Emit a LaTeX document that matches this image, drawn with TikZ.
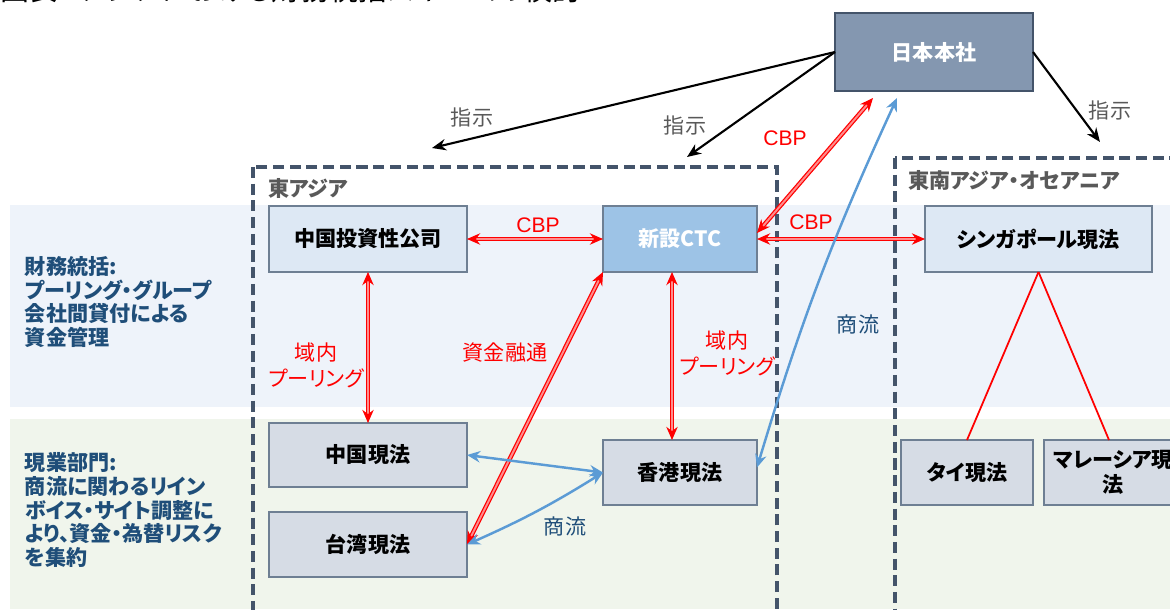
\documentclass[tikz,border=0pt]{standalone}
\usepackage{fontspec}
\setmainfont[RawFeature=+palt]{Noto Sans CJK JP}
\newfontfamily\latf{Liberation Sans}
\usetikzlibrary{arrows.meta,calc}
\definecolor{bandblue}{HTML}{EEF3FA}
\definecolor{bandgreen}{HTML}{F0F5EC}
\definecolor{boxlight}{HTML}{DDE8F4}
\definecolor{boxctc}{HTML}{9DC3E6}
\definecolor{boxgray}{HTML}{D6DCE5}
\definecolor{boxhq}{HTML}{8497B0}
\definecolor{slate}{HTML}{44546A}
\definecolor{edgegray}{HTML}{6E7F93}
\definecolor{navy}{HTML}{1F4E79}
\definecolor{flowblue}{HTML}{5B9BD5}
\definecolor{labelgray}{HTML}{595959}
\newcommand\bxfont{\bfseries\fontsize{12}{14}\selectfont}
\newcommand\lbfont{\fontsize{12}{14}\selectfont}
\begin{document}
\begin{tikzpicture}[x=0.02cm,y=-0.02cm,
  every node/.style={inner sep=0pt,outer sep=0pt},
  px/.style n args={2}{minimum width=#1*0.02cm,minimum height=#2*0.02cm},
  lightbox/.style={draw=edgegray,fill=boxlight,line width=0.8pt,font=\bxfont},
  ctcbox/.style={draw=edgegray,fill=boxctc,line width=0.8pt,text=white,font=\bxfont},
  graybox/.style={draw=edgegray,fill=boxgray,line width=0.8pt,font=\bxfont},
  hqbox/.style={draw=slate,fill=boxhq,line width=0.8pt,text=white,font=\bxfont},
  region/.style={draw=slate,line width=1.8pt,dash pattern=on 6.3pt off 3.2pt},
  regionlabel/.style={anchor=west,text=labelgray,font=\bxfont},
  sidelabel/.style={anchor=west,align=left,text=navy,font=\bfseries\fontsize{12}{13.4}\selectfont},
  redlabel/.style={text=red,align=center,font=\fontsize{12}{14.8}\selectfont},
  cbplabel/.style={text=red,font=\latf\fontsize{12}{14}\selectfont},
  flowlabel/.style={text=navy,font=\lbfont},
  ordlabel/.style={text=labelgray,font=\lbfont},
  blackarr/.style={draw=black,line width=1.2pt,-{Stealth[length=8pt,width=6.5pt]}},
  redarr/.style={draw=red,line width=0.7pt,double=red!45,double distance=1.1pt,
    {Stealth[length=7.5pt,width=6.5pt]}-{Stealth[length=7.5pt,width=6.5pt]}},
  redline/.style={draw=red,line width=1pt},
  bluearr/.style={draw=flowblue,line width=1.4pt,
    {Stealth[length=7.5pt,width=6.5pt]}-{Stealth[length=7.5pt,width=6.5pt]}}
]
\useasboundingbox (0,0) rectangle (1170,609);
\begin{scope}
\clip (0,0) rectangle (1170,609);
\fill[bandblue] (10,205) rectangle (1170,407);
\fill[bandgreen] (10,419) rectangle (1170,609);
\node[anchor=base west,font=\fontsize{16.5}{18}\selectfont] (title) at (0,0) {図表4 アジアにおける財務統括スキームの検討};
\draw[region] (253,167) rectangle (777,660);
\draw[region] (895,158) rectangle (1220,660);
\end{scope}

\node[regionlabel] (ea) at (268,188) {東アジア};
\node[regionlabel] (sea) at (908,180) {東南アジア・オセアニア};

\node[sidelabel] (fin) at (25,302) {財務統括:\\プーリング・グループ\\会社間貸付による\\資金管理};
\node[sidelabel] (ops) at (25,510) {現業部門:\\商流に関わるリイン\\ボイス・サイト調整に\\より、資金・為替リスク\\を集約};

\node[hqbox,px={198}{78}] (hq) at (934,52) {日本本社};
\node[lightbox,px={198}{66}] (cic) at (368,239) {中国投資性公司};
\node[ctcbox,px={154}{66}] (ctc) at (680,239) {新設CTC};
\node[lightbox,px={227}{66}] (sg) at (1038.5,239) {シンガポール現法};
\node[graybox,px={198}{64}] (cn) at (368,455) {中国現法};
\node[graybox,px={198}{65}] (tw) at (368,544.5) {台湾現法};
\node[graybox,px={154}{65}] (hk) at (680,472.5) {香港現法};
\node[graybox,px={132}{65}] (th) at (967,472.5) {タイ現法};
\node[graybox,px={138}{65},align=center] (my) at (1113,472.5) {マレーシア現\\法};

\coordinate (d1) at (432,148);
\coordinate (d2) at (687,157);
\coordinate (d3) at (1100,142);
\coordinate (hqcbp) at (873,98);
\coordinate (hqflow) at (897,98);

\draw[blackarr] (hq.west) -- (d1);
\draw[blackarr] (hq.west) -- (d2);
\draw[blackarr] (hq.east) -- (d3);
\node[ordlabel] (o1) at (472,117) {指示};
\node[ordlabel] (o2) at (685,125) {指示};
\node[ordlabel] (o3) at (1110,110) {指示};

\draw[redarr] (cic.east) -- (ctc.west);
\draw[redarr] ($(ctc.east)+(0,-6)$) -- (hqcbp);
\draw[redarr] (ctc.east) -- (sg.west);
\draw[redarr] (cic.south) -- (cn.north);
\draw[redarr] ($(ctc.south)+(-8,0)$) -- ($(hk.north)+(-8,0)$);
\draw[redarr] (tw.east) -- (ctc.south west);
\draw[redline] (sg.south) -- (th.north);
\draw[redline] (sg.south) -- ($(my.north)+(-4,0)$);

\node[cbplabel] (c1) at (538,225) {CBP};
\node[cbplabel] (c2) at (785,138) {CBP};
\node[cbplabel] (c3) at (811,222) {CBP};
\node[redlabel] (p1) at (316,365) {域内\\プーリング};
\node[redlabel] (p2) at (727,353) {域内\\プーリング};
\node[redlabel] (fund) at (505,353) {資金融通};

\draw[bluearr] (cn.east) -- (hk.west);
\draw[bluearr] (tw.east) to[bend right=4] (hk.west);
\draw[bluearr] ($(hk.east)+(0,-5)$) to[bend left=4] (hqflow);
\node[flowlabel] (f1) at (565,526) {商流};
\node[flowlabel] (f2) at (858,324) {商流};
\end{tikzpicture}
\end{document}
